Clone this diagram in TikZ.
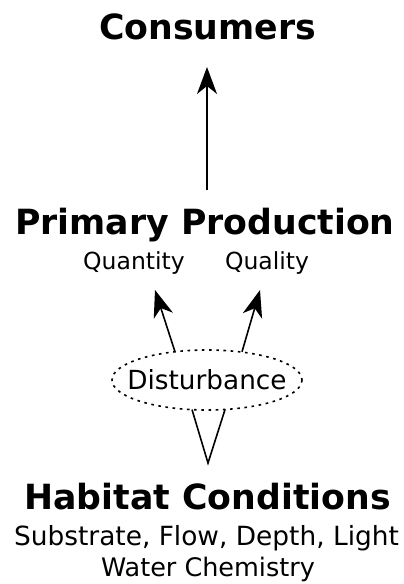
\documentclass[tikz,border=0pt]{standalone}
\usepackage{fontspec}
\setmainfont{DejaVu Sans}
\usetikzlibrary{arrows.meta}
\begin{document}
\begin{tikzpicture}[x=1pt,y=-1pt,
  title/.style={font=\fontsize{34.7}{36}\selectfont\bfseries, inner sep=0pt, anchor=base},
  sub/.style={font=\fontsize{23.5}{26}\selectfont, inner sep=0pt, anchor=base},
  arr/.style={line width=1.6pt, -{Stealth[length=27pt,width=20pt,inset=8pt]}},
  conn/.style={line width=1.6pt},
  dotline/.style={line width=1.6pt, dash pattern=on 2.6pt off 4.6pt}]
\useasboundingbox (0,0) rectangle (404,584);
\node[title] (cons) at (207.5,39) {Consumers};
\node[title] (prim) at (205,234) {Primary Production};
\node[sub] (quan) at (134,269) {Quantity};
\node[sub] (qual) at (267,269) {Quality};
\node[sub, font=\fontsize{26.3}{28}\selectfont, anchor=center] (dist) at (207,380) {Disturbance};
\draw[dotline] (dist.center) ellipse [x radius=95, y radius=30];
\node[title] (hab) at (207.5,509) {Habitat Conditions};
\node[sub, font=\fontsize{26.4}{28}\selectfont] (habsub) at (206.5,545) {Substrate, Flow, Depth, Light};
\node[sub, font=\fontsize{25.5}{28}\selectfont] (habsub2) at (208,576) {Water Chemistry};
\coordinate (primtop) at (207,190);
\coordinate (constip) at (207,67);
\coordinate (dl) at (175,351.8);
\coordinate (dr) at (242,351.8);
\coordinate (ql) at (155,290);
\coordinate (qr) at (260,290);
\coordinate (vl) at (192,409.6);
\coordinate (vr) at (225,409.6);
\coordinate (v) at (208,463);
\draw[arr] (primtop) -- (constip);
\draw[arr] (dl) -- (ql);
\draw[arr] (dr) -- (qr);
\draw[conn] (vl) -- (v) -- (vr);
\end{tikzpicture}
\end{document}
